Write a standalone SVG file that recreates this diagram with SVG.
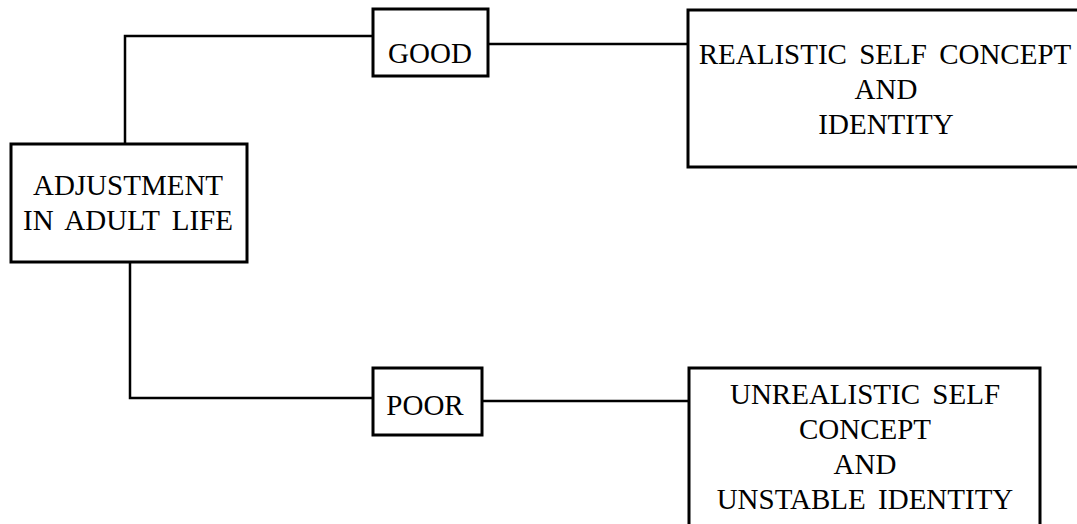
<svg xmlns="http://www.w3.org/2000/svg" width="1077" height="524" viewBox="0 0 1077 524">
<style>
.box{fill:#fff;stroke:#000;stroke-width:3}
.conn{fill:none;stroke:#000;stroke-width:2.5}
.t{font-family:"Liberation Serif","Times New Roman","DejaVu Serif",serif;font-size:29px;fill:#000;text-anchor:middle;word-spacing:5px}
</style>
<rect width="1077" height="524" fill="#fff"/>
<g id="connectors">
<path class="conn" d="M125,144 V36 H373"/>
<path class="conn" d="M488,44 H688"/>
<path class="conn" d="M130,262 V398 H373"/>
<path class="conn" d="M482,401 H689"/>
</g>
<g id="adjustment">
<rect class="box" x="11" y="144" width="236" height="118"/>
<text class="t" x="128" y="195">ADJUSTMENT</text>
<text class="t" x="128" y="230">IN ADULT LIFE</text>
</g>
<g id="good">
<rect class="box" x="373" y="9" width="115" height="67"/>
<text class="t" x="430" y="63">GOOD</text>
</g>
<g id="poor">
<rect class="box" x="373" y="368" width="109" height="67"/>
<text class="t" x="425" y="415">POOR</text>
</g>
<g id="realistic">
<rect class="box" x="688" y="10" width="400" height="157"/>
<text class="t" x="885" y="64">REALISTIC SELF CONCEPT</text>
<text class="t" x="886" y="99">AND</text>
<text class="t" x="886" y="134">IDENTITY</text>
</g>
<g id="unrealistic">
<rect class="box" x="689" y="368" width="351" height="170"/>
<text class="t" x="865" y="404">UNREALISTIC SELF</text>
<text class="t" x="865" y="439">CONCEPT</text>
<text class="t" x="865" y="474">AND</text>
<text class="t" x="865" y="509">UNSTABLE IDENTITY</text>
</g>
</svg>
